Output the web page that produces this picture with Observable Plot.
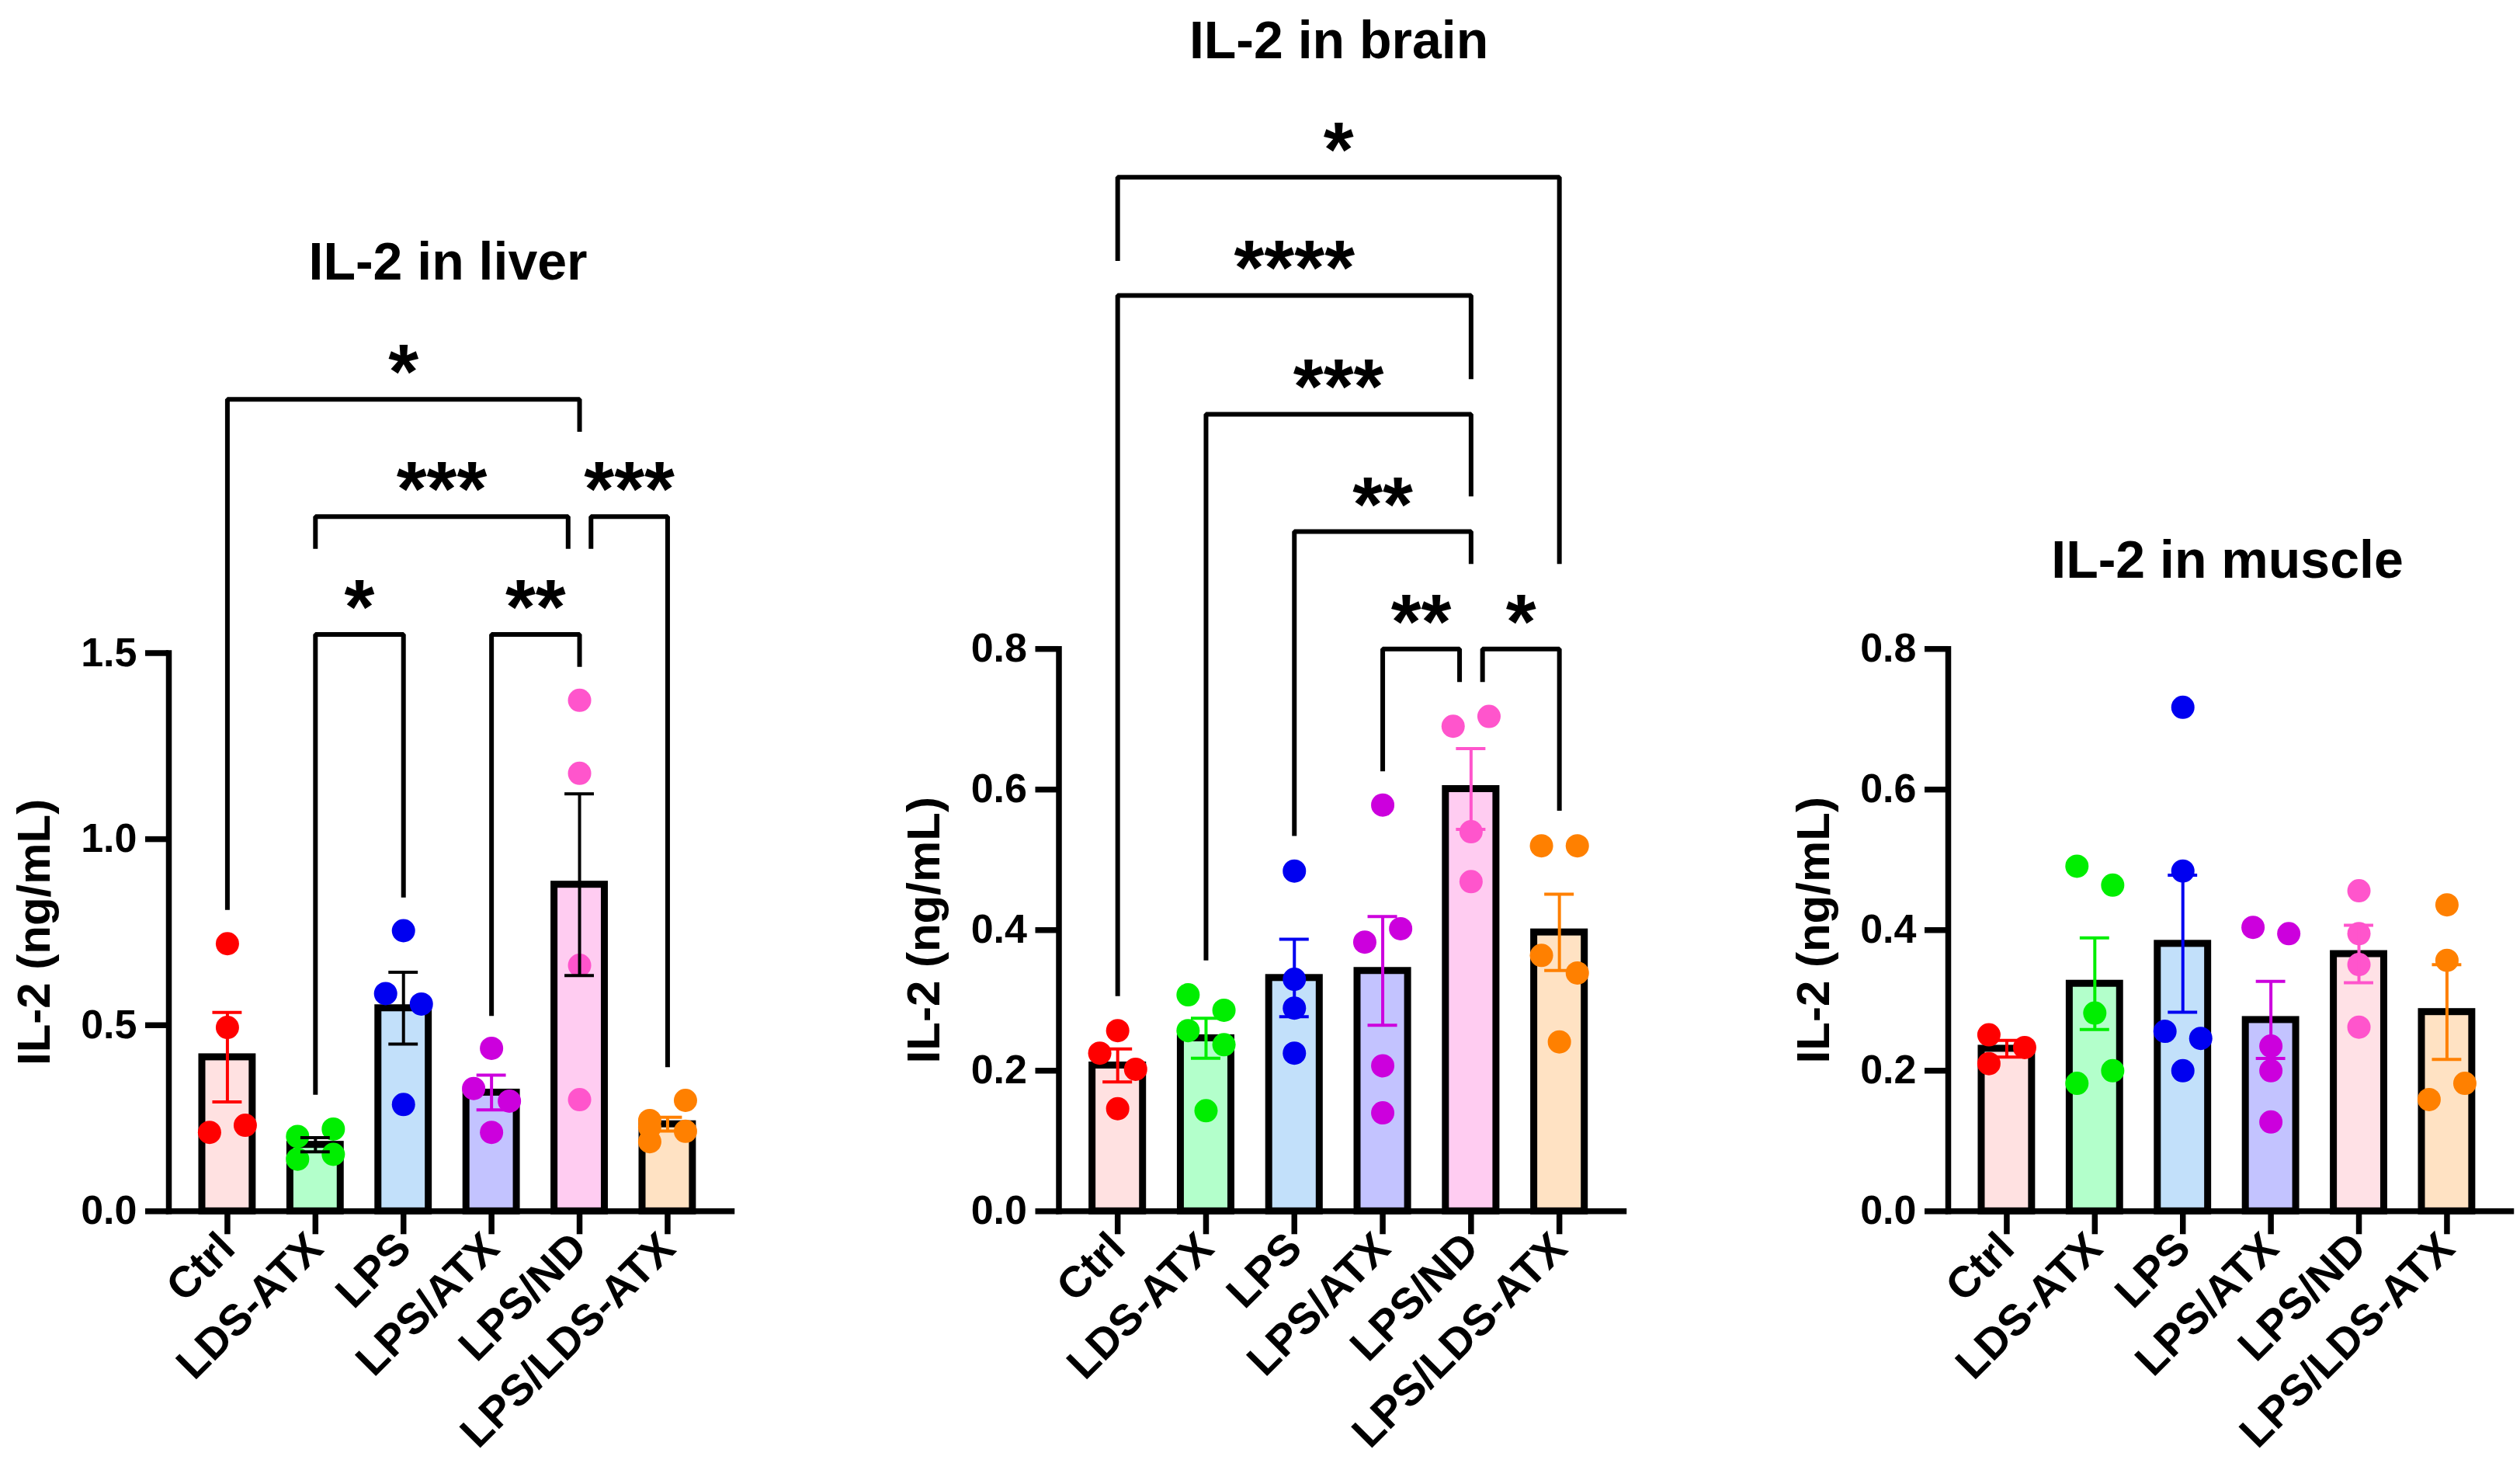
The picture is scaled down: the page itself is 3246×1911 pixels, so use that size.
<!DOCTYPE html>
<html><head><meta charset="utf-8">
<script src="https://cdn.jsdelivr.net/npm/d3@7"></script>
<script src="https://cdn.jsdelivr.net/npm/@observablehq/plot@0.6"></script>
<style>
html,body{margin:0;padding:0;background:#fff;}
#root{position:relative;width:3246px;height:1911px;overflow:hidden;font-family:"Liberation Sans",Arial,Helvetica,sans-serif;}
.title{position:absolute;width:1000px;text-align:center;font-size:68px;font-weight:bold;line-height:68px;white-space:nowrap;color:#000;}
.panel{position:absolute;top:0;}
</style></head><body><div id="root"></div>
<script>
// ---------- data ----------
const categories = ["Ctrl", "LDS-ATX", "LPS", "LPS/ATX", "LPS/ND", "LPS/LDS-ATX"];
const yLabel = "IL-2 (ng/mL)";

const liverTitle = "IL-2 in liver";
const liverTicks = [0, 0.5, 1.0, 1.5];
const liverValues = [
  [0.719, 0.494, 0.212, 0.231],
  [0.201, 0.221, 0.140, 0.153],
  [0.754, 0.585, 0.557, 0.287],
  [0.438, 0.330, 0.296, 0.212],
  [1.373, 1.177, 0.661, 0.300],
  [0.244, 0.298, 0.226, 0.215, 0.187]
];
const liverBrackets = [
  {from: "Ctrl", to: "LPS/ND", level: 2.182, fromEnd: 0.810, toEnd: 2.095, label: "*"},
  {from: "LDS-ATX", to: "LPS/ND", toNudge: -1, level: 1.867, fromEnd: 1.780, toEnd: 1.780, label: "***"},
  {from: "LPS/ND", fromNudge: 1, to: "LPS/LDS-ATX", level: 1.867, fromEnd: 1.780, toEnd: 0.387, label: "***"},
  {from: "LDS-ATX", to: "LPS", level: 1.550, fromEnd: 0.313, toEnd: 0.843, label: "*"},
  {from: "LPS/ATX", to: "LPS/ND", level: 1.550, fromEnd: 0.525, toEnd: 1.463, label: "**"}
];

const brainTitle = "IL-2 in brain";
const brainTicks = [0, 0.2, 0.4, 0.6, 0.8];
const brainValues = [
  [0.257, 0.225, 0.202, 0.146],
  [0.308, 0.286, 0.257, 0.237, 0.143],
  [0.484, 0.330, 0.289, 0.225],
  [0.578, 0.383, 0.402, 0.207, 0.140],
  [0.690, 0.704, 0.540, 0.469],
  [0.520, 0.520, 0.364, 0.339, 0.241]
];
const brainBrackets = [
  {from: "Ctrl", to: "LPS/LDS-ATX", level: 1.471, fromEnd: 1.352, toEnd: 0.921, label: "*"},
  {from: "Ctrl", to: "LPS/ND", level: 1.303, fromEnd: 0.306, toEnd: 1.184, label: "****"},
  {from: "LDS-ATX", to: "LPS/ND", level: 1.134, fromEnd: 0.357, toEnd: 1.017, label: "***"},
  {from: "LPS", to: "LPS/ND", level: 0.967, fromEnd: 0.534, toEnd: 0.921, label: "**"},
  {from: "LPS/ATX", to: "LPS/ND", toNudge: -1, level: 0.800, fromEnd: 0.626, toEnd: 0.753, label: "**"},
  {from: "LPS/ND", fromNudge: 1, to: "LPS/LDS-ATX", level: 0.800, fromEnd: 0.753, toEnd: 0.570, label: "*"}
];

const muscleTitle = "IL-2 in muscle";
const muscleTicks = [0, 0.2, 0.4, 0.6, 0.8];
const muscleValues = [
  [0.251, 0.233, 0.210],
  [0.491, 0.464, 0.282, 0.182, 0.200],
  [0.717, 0.484, 0.256, 0.246, 0.200],
  [0.404, 0.395, 0.235, 0.200, 0.127],
  [0.456, 0.395, 0.351, 0.262],
  [0.436, 0.357, 0.159, 0.182]
];
const muscleBrackets = [];

// ---------- styles ----------
const barFill = ["#FFE1E1", "#B3FFCB", "#C2E0FA", "#C3C3FF", "#FFCCF1", "#FFE2C3"];
const dotColor = ["#FF0000", "#00EE00", "#0000F0", "#CC00DD", "#FF55CC", "#FF8000"];
const FONT = '"Liberation Sans", Arial, Helvetica, sans-serif';

const panels = [
  {title: liverTitle, ticks: liverTicks, values: liverValues, brackets: liverBrackets,
   left: 0, axisX: 217, rightEnd: 942, top: 840.5, zero: 1559.3, titleCx: 577, titleBase: 359,
   errBlack: ["LDS-ATX", "LPS", "LPS/ND"], fillOverride: {}},
  {title: brainTitle, ticks: brainTicks, values: brainValues, brackets: brainBrackets,
   left: 1100, axisX: 1363.5, rightEnd: 2091, top: 835.2, zero: 1559.3, titleCx: 1724.6, titleBase: 74,
   errBlack: [], fillOverride: {}},
  {title: muscleTitle, ticks: muscleTicks, values: muscleValues, brackets: muscleBrackets,
   left: 2250, axisX: 2509, rightEnd: 3234, top: 835.2, zero: 1559.3, titleCx: 2869, titleBase: 743,
   errBlack: [], fillOverride: {"LPS/ND": "#FFE1E6"}}
];

const XDOM = [-0.665, 5.728];
const BAR_HALF = 0.286, LANE = 0.203, CAP_HALF = 0.167, NUDGE = 0.13;

function layoutDots(values, pxPerUnit) {
  const pts = [];
  values.forEach((vals, i) => {
    const order = vals.map((v, k) => ({v, k})).sort((a, b) => b.v - a.v);
    const clusters = [];
    let cur = [order[0]];
    for (let j = 1; j < order.length; j++) {
      if ((order[j - 1].v - order[j].v) * pxPerUnit < 27.5) cur.push(order[j]);
      else { clusters.push(cur); cur = [order[j]]; }
    }
    clusters.push(cur);
    for (const c of clusters) {
      if (c.length === 1) pts.push({i, v: c[0].v, lane: 0});
      else c.slice().sort((a, b) => a.k - b.k)
            .forEach((p, n) => pts.push({i, v: p.v, lane: n % 2 === 0 ? -1 : 1}));
    }
  });
  return pts;
}

const root = document.getElementById("root");
const H = 1911;

for (const p of panels) {
  const ymax = p.ticks[p.ticks.length - 1];
  const pxPerUnit = (p.zero - p.top) / ymax;
  const stats = p.values.map((vals, i) => {
    const mean = d3.mean(vals), sem = d3.deviation(vals) / Math.sqrt(vals.length);
    const cat = categories[i];
    return {i, cat, mean, lo: mean - sem, hi: mean + sem,
      fill: p.fillOverride[cat] || barFill[i],
      err: p.errBlack.includes(cat) ? "#000" : dotColor[i]};
  });
  const dots = layoutDots(p.values, pxPerUnit);
  const idx = c => categories.indexOf(c);
  const bpath = [];
  p.brackets.forEach((b, j) => {
    const x1 = idx(b.from) + (b.fromNudge || 0) * NUDGE;
    const x2 = idx(b.to) + (b.toNudge || 0) * NUDGE;
    bpath.push({id: j, x: x1, y: b.fromEnd}, {id: j, x: x1, y: b.level},
               {id: j, x: x2, y: b.level}, {id: j, x: x2, y: b.toEnd});
  });
  const stars = p.brackets.map(b => ({
    x: (idx(b.from) + (b.fromNudge || 0) * NUDGE + idx(b.to) + (b.toNudge || 0) * NUDGE) / 2,
    y: b.level, label: b.label}));

  const width = p.rightEnd - p.left + 12;
  const chart = Plot.plot({
    width, height: H,
    marginLeft: p.axisX - p.left, marginRight: 12,
    marginTop: p.top, marginBottom: H - p.zero,
    x: {domain: XDOM, axis: null},
    y: {domain: [0, ymax], axis: null},
    style: {fontFamily: FONT, fontWeight: "bold", fontSize: "52px", background: "transparent",
            overflow: "visible", maxWidth: "none", color: "#000"},
    marks: [
      Plot.rectY(stats, {x1: d => d.i - BAR_HALF, x2: d => d.i + BAR_HALF, y1: 0, y2: "mean",
        fill: d => d.fill, stroke: "#000", strokeWidth: 9}),
      Plot.dot(dots, {x: d => d.i + d.lane * LANE, y: "v", r: 15, fill: d => dotColor[d.i], stroke: null}),
      Plot.ruleX(stats, {x: "i", y1: "lo", y2: "hi", stroke: d => d.err, strokeWidth: 4}),
      Plot.ruleY(stats, {y: "hi", x1: d => d.i - CAP_HALF, x2: d => d.i + CAP_HALF, stroke: d => d.err, strokeWidth: 4}),
      Plot.ruleY(stats, {y: "lo", x1: d => d.i - CAP_HALF, x2: d => d.i + CAP_HALF, stroke: d => d.err, strokeWidth: 4}),
      Plot.line(bpath, {x: "x", y: "y", z: "id", stroke: "#000", strokeWidth: 6,
        strokeLinejoin: "miter", strokeLinecap: "butt"}),
      Plot.text(stars, {x: "x", y: "y", text: "label", dy: -33, fontSize: 100, fontWeight: "bold",
        lineAnchor: "middle", fill: "#000"}),
      Plot.frame({anchor: "left", stroke: "#000", strokeWidth: 7.5, strokeLinecap: "square"}),
      Plot.frame({anchor: "bottom", stroke: "#000", strokeWidth: 7.5, strokeLinecap: "square"}),
      Plot.axisY(p.ticks, {tickFormat: d3.format(".1f"), tickSize: 30, tickPadding: 11,
        strokeWidth: 7.5, stroke: "#000", fontSize: 52, fontWeight: "bold", label: null}),
      Plot.axisX(d3.range(categories.length), {tickFormat: i => categories[i], tickRotate: -45,
        tickSize: 30, tickPadding: 8, strokeWidth: 7.5, stroke: "#000", fontSize: 56, fontWeight: "bold", label: null}),
      Plot.text([yLabel], {frameAnchor: "left", rotate: -90, dx: -173, fontSize: 60, fontWeight: "bold",
        lineAnchor: "middle", textAnchor: "middle", fill: "#000"})
    ]
  });
  const holder = document.createElement("div");
  holder.className = "panel";
  holder.style.left = p.left + "px";
  holder.style.width = width + "px";
  holder.appendChild(chart);
  root.appendChild(holder);

  const t = document.createElement("div");
  t.className = "title";
  t.textContent = p.title;
  t.style.left = (p.titleCx - 500) + "px";
  t.style.top = (p.titleBase - 57.5) + "px";
  root.appendChild(t);
}
</script></body></html>
